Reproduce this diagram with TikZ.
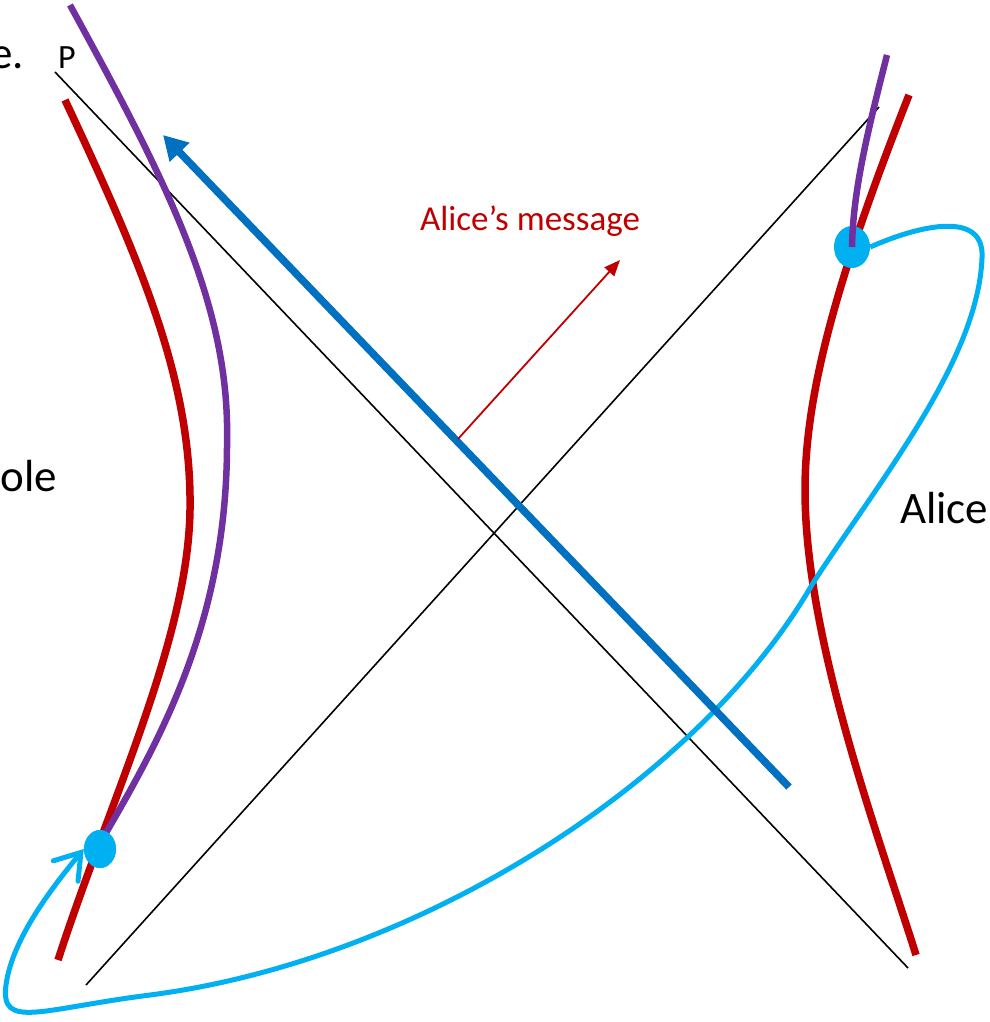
\documentclass[tikz,border=0pt]{standalone}
\usepackage{fontspec}
\setmainfont{Carlito}
\usetikzlibrary{arrows.meta,shapes.geometric}
\definecolor{hred}{HTML}{C00000}
\definecolor{hpurple}{HTML}{7030A0}
\definecolor{hblue}{HTML}{0070C0}
\definecolor{hcyan}{HTML}{00B0F0}
\tikzset{
  horizon/.style={black, line width=1.6pt},
  redline/.style={hred, line width=7.5pt},
  purpleline/.style={hpurple, line width=6.5pt},
  cyanline/.style={hcyan, line width=5pt},
  dotnode/.style={ellipse, fill=hcyan, inner sep=0pt},
  biglabel/.style={font=\fontsize{45}{50}\selectfont, inner sep=0pt},
}
\begin{document}
\begin{tikzpicture}[x=1pt,y=-1pt]
\useasboundingbox (0,0) rectangle (989,1022);

% horizons
\coordinate (h1a) at (55,72);
\coordinate (h1b) at (908,968);
\coordinate (h2a) at (86,985);
\coordinate (h2b) at (879,107);
\draw[horizon] (h1a) -- (h1b);
\draw[horizon] (h2a) -- (h2b);

% red hyperbolae
\draw[redline] (65,100) .. controls (140,260) and (192,380) .. (190,510)
                      .. controls (188,640) and (110,800) .. (58,960);
\draw[redline] (909,95) .. controls (840,270) and (805,390) .. (805,490)
                      .. controls (805,640) and (880,840) .. (916,955);

% dots and cyan loop
\node[dotnode, minimum width=36pt, minimum height=42pt] (dR) at (852,247) {};
\node[dotnode, minimum width=32pt, minimum height=38pt] (dL) at (100,849) {};
\draw[cyanline, -{Straight Barb[length=24pt,width=32pt,line cap=round]}]
  (dR.east) .. controls (920,225) and (985,210) .. (982,258)
  .. controls (978,360) and (880,480) .. (813,583)
  .. controls (700,780) and (420,960) .. (150,995)
  .. controls (40,1009) and (0,1030) .. (6,985)
  .. controls (12,940) and (50,890) .. (dL.west);

% purple worldlines
\draw[purpleline] (70,5) .. controls (160,170) and (230,300) .. (227,440)
                        .. controls (228,620) and (160,740) .. (103,838);
\draw[purpleline] (887,55) .. controls (868,130) and (853,190) .. (dR.center);
\node[dotnode, minimum width=32pt, minimum height=38pt] at (dL) {};

% blue signal
\coordinate (bS) at (789,787);
\coordinate (bT) at (163,135);
\draw[hblue, line width=7.5pt, -{Triangle[length=24pt,width=26pt]}] (bS) -- (bT);

% Alice's message
\coordinate (mS) at (458,439);
\coordinate (mT) at (620,260);
\draw[hred, line width=1.8pt, -{Triangle[length=16pt,width=13pt]}] (mS) -- (mT);
\node[hred, font=\fontsize{35}{40}\selectfont, anchor=base, inner sep=0pt] (msg) at (530,230) {Alice’s message};

% labels
\node[anchor=base west, font=\fontsize{34}{38}\selectfont, inner sep=0pt] (P) at (58,69) {P};
\node[biglabel, anchor=base east] (eDot) at (24,69) {e.};
\node[biglabel, anchor=base east] (ole) at (57,491) {ole};
\node[biglabel, anchor=base west] (alice) at (900,523) {Alice};
\end{tikzpicture}
\end{document}
